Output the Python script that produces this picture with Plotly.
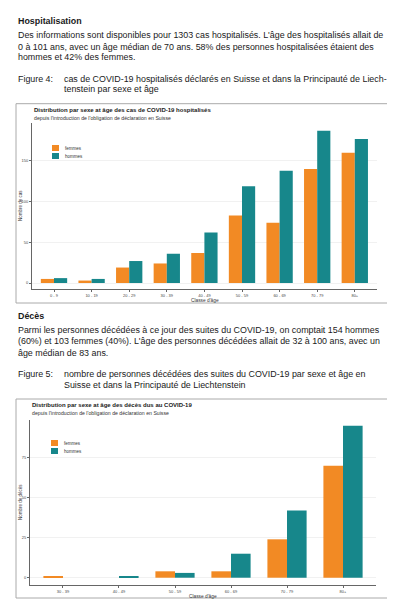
import plotly.graph_objects as go

# ---------------- data ----------------
age_hosp = ["0 - 9", "10 - 19", "20 - 29", "30 - 39", "40 - 49", "50 - 59", "60 - 69", "70 - 79", "80+"]
hosp_femmes = [5, 3, 19, 24, 37, 83, 74, 140, 160]
hosp_hommes = [6, 5, 27, 36, 62, 119, 138, 187, 177]
ticks_hosp = [0, 50, 100, 150]

age_dec = ["30 - 39", "40 - 49", "50 - 59", "60 - 69", "70 - 79", "80+"]
dec_femmes = [1, 0, 4, 4, 24, 70]
dec_hommes = [0, 1, 3, 15, 42, 95]
ticks_dec = [0, 25, 50, 75]

# ---------------- helpers ----------------
# the page body has an 8px margin, so the figure is 8px smaller and all
# page coordinates are shifted by 8px
OFF = 8
W, H = 395 - OFF, 609 - OFF
def px(x): return (x - OFF) / W
def py(y): return 1 - (y - OFF) / H

ORANGE = "#F28A24"
TEAL = "#17878B"
FONT = "Liberation Sans, Arial, sans-serif"
TXT = "#1a1a1a"
BODY = 8.9

fig = go.Figure()
fig.add_trace(go.Bar(x=age_hosp, y=hosp_femmes, name="femmes", marker_color=ORANGE,
                     xaxis="x", yaxis="y", showlegend=False, marker_line_width=0))
fig.add_trace(go.Bar(x=age_hosp, y=hosp_hommes, name="hommes", marker_color=TEAL,
                     xaxis="x", yaxis="y", showlegend=False, marker_line_width=0))
fig.add_trace(go.Bar(x=age_dec, y=dec_femmes, name="femmes", marker_color=ORANGE,
                     xaxis="x2", yaxis="y2", showlegend=False, marker_line_width=0))
fig.add_trace(go.Bar(x=age_dec, y=dec_hommes, name="hommes", marker_color=TEAL,
                     xaxis="x2", yaxis="y2", showlegend=False, marker_line_width=0))

axis_common = dict(showline=True, linecolor="#666", linewidth=1, ticks="outside",
                   ticklen=2, tickcolor="#666", tickfont=dict(family=FONT, size=4, color="#444"),
                   zeroline=False, fixedrange=True)

fig.update_layout(
    width=W, height=H, margin=dict(l=0, r=0, t=0, b=0),
    paper_bgcolor="white", plot_bgcolor="white",
    barmode="group", bargap=0.3, bargroupgap=0,
    showlegend=False,
    xaxis=dict(domain=[px(32), px(376.8)], range=[-0.585, 8.585], type="category",
               anchor="y", showgrid=False, **axis_common),
    yaxis=dict(domain=[py(289), py(123)], range=[-7.37, 196.6], tickvals=ticks_hosp,
               anchor="x", showgrid=True, gridcolor="#F1F1F1", gridwidth=1, **axis_common),
    xaxis2=dict(domain=[px(30), px(376)], range=[-0.589, 5.589], type="category",
                anchor="y2", showgrid=False, **axis_common),
    yaxis2=dict(domain=[py(585), py(420)], range=[-4.56, 98.6], tickvals=ticks_dec,
                anchor="x2", showgrid=True, gridcolor="#F1F1F1", gridwidth=1, **axis_common),
)

ann = []
def text(x, y, s, size=BODY, color=TXT, xanchor="left", angle=0):
    ann.append(dict(x=px(x), y=py(y), xref="paper", yref="paper", text=s, showarrow=False,
                    xanchor=xanchor, yanchor="middle", textangle=angle,
                    font=dict(family=FONT, size=size, color=color)))

# --- top text block ---
text(16, 20.7, "<b>Hospitalisation</b>")
text(16, 35, "Des informations sont disponibles pour 1303 cas hospitalisés. L'âge des hospitalisés allait de")
text(16, 46.7, "0 à 101 ans, avec un âge médian de 70 ans. 58% des personnes hospitalisées étaient des")
text(16, 57.3, "hommes et 42% des femmes.")
text(16, 79, "Figure 4:")
text(62, 79, "cas de COVID-19 hospitalisés déclarés en Suisse et dans la Principauté de Liech-")
text(62, 89.3, "tenstein par sexe et âge")

# --- middle text block ---
text(16, 316, "<b>Décès</b>")
text(16, 330, "Parmi les personnes décédées à ce jour des suites du COVID-19, on comptait 154 hommes")
text(16, 341.5, "(60%) et 103 femmes (40%). L'âge des personnes décédées allait de 32 à 100 ans, avec un")
text(16, 353, "âge médian de 83 ans.")
text(16, 374, "Figure 5:")
text(62, 374, "nombre de personnes décédées des suites du COVID-19 par sexe et âge en")
text(62, 384.5, "Suisse et dans la Principauté de Liechtenstein")

# --- chart 1 texts ---
text(32, 110, "<b>Distribution par sexe at âge des cas de COVID-19 hospitalisés</b>", size=6)
text(32, 118, "depuis l'introduction de l'obligation de déclaration en Suisse", size=5.2, color="#333")
text(63, 148, "femmes", size=4.5, color="#333")
text(63, 156, "hommes", size=4.5, color="#333")
text(205, 300, "Classe d'âge", size=4.8, color="#333", xanchor="center")
text(21, 206, "Nombre de cas", size=4.5, color="#333", xanchor="center", angle=-90)

# --- chart 2 texts ---
text(30, 405, "<b>Distribution par sexe at âge des décès dus au COVID-19</b>", size=6)
text(30, 413, "depuis l'introduction de l'obligation de déclaration en Suisse", size=5.2, color="#333")
text(62, 443, "femmes", size=4.5, color="#333")
text(62, 451, "hommes", size=4.5, color="#333")
text(203, 596, "Classe d'âge", size=4.8, color="#333", xanchor="center")
text(20, 502, "Nombre de décès", size=4.5, color="#333", xanchor="center", angle=-90)

fig.update_layout(annotations=ann)

shapes = []
def rect(x0, y0, x1, y1, fill=None, line=None):
    shapes.append(dict(type="rect", xref="paper", yref="paper", x0=px(x0), x1=px(x1),
                       y0=py(y1), y1=py(y0), fillcolor=fill or "rgba(0,0,0,0)",
                       line=dict(width=1 if line else 0, color=line or "rgba(0,0,0,0)"),
                       layer="above"))

# chart frames
rect(16, 103.7, 388, 303, line="#AAAAAA")
rect(16, 399, 388, 598, line="#AAAAAA")
# legend swatches
rect(52, 145, 59, 151, fill=ORANGE)
rect(52, 153, 59, 159, fill=TEAL)
rect(51, 440, 58, 446, fill=ORANGE)
rect(51, 448, 58, 454, fill=TEAL)
fig.update_layout(shapes=shapes)

fig.write_html("out.html")
